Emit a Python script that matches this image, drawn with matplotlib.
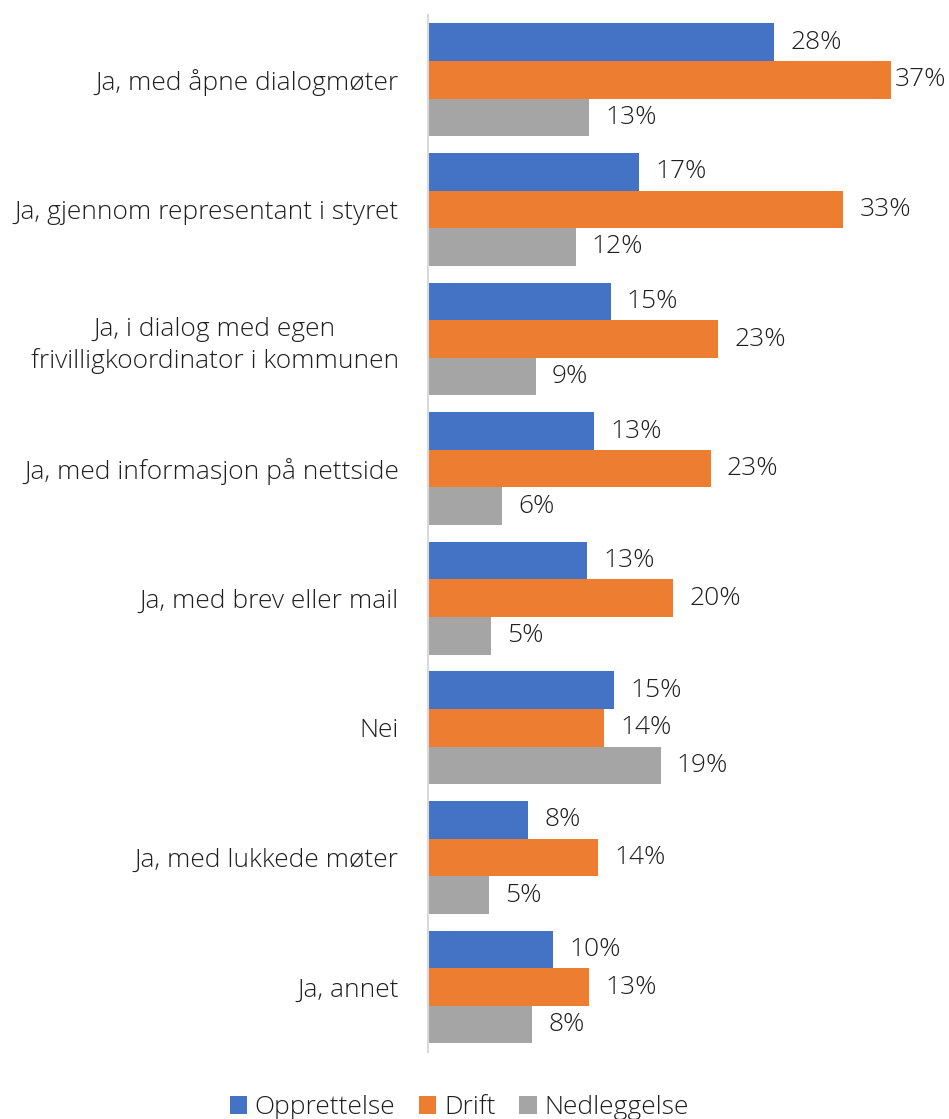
import matplotlib.pyplot as plt
import numpy as np

plt.rcParams['font.family'] = ['Open Sans', 'DejaVu Sans']
plt.rcParams['font.weight'] = 'light'

# Kategorier (ovenfra og ned) og andeler i prosent
categories = [
    'Ja, med åpne dialogmøter',
    'Ja, gjennom representant i styret',
    'Ja, i dialog med egen\nfrivilligkoordinator i kommunen',
    'Ja, med informasjon på nettside',
    'Ja, med brev eller mail',
    'Nei',
    'Ja, med lukkede møter',
    'Ja, annet',
]
opprettelse = [27.7, 16.9, 14.6, 13.3, 12.7, 14.9, 8.0, 10.0]
drift = [37.0, 33.2, 23.2, 22.6, 19.6, 14.1, 13.6, 12.9]
nedleggelse = [12.9, 11.8, 8.6, 5.9, 5.0, 18.6, 4.9, 8.3]

series = ['Opprettelse', 'Drift', 'Nedleggelse']
colors = ['#4472C4', '#ED7D31', '#A5A5A5']

fig = plt.figure(figsize=(9.49, 11.19), dpi=100)
ax = fig.add_axes([0.451, 0.060, 0.527, 0.9266])

fs = 19
xmax = 40
y = np.arange(len(categories))
h = 0.29
for k, (vals, name, col) in enumerate(zip([opprettelse, drift, nedleggelse], series, colors)):
    pos = y + (k - 1) * h
    ax.barh(pos, vals, height=h, color=col, label=name)
    for p, v in zip(pos, vals):
        # etiketten skyves inn hvis den ellers havner utenfor kanten
        xt = min(v + 1.3, xmax - 2.7)
        ax.text(xt, p, f'{round(v)}%', va='center', ha='left',
                fontsize=fs, color='#1f1f1f')

ax.set_xlim(0, xmax)
ax.set_ylim(len(categories) - 0.5, -0.5)
ax.set_yticks(y)
ax.set_yticklabels(categories, fontsize=fs, color='#1f1f1f', linespacing=1.35,
                   multialignment='center')
ax.tick_params(axis='y', length=0, pad=21)
ax.set_xticks([])
for s in ['top', 'right', 'bottom']:
    ax.spines[s].set_visible(False)
ax.spines['left'].set_color('#D9D9D9')
ax.spines['left'].set_linewidth(1.5)

fig.legend(loc='center', bbox_to_anchor=(0.484, 0.010), ncol=3, frameon=False,
           fontsize=fs, handlelength=0.65, handleheight=0.65, handletextpad=0.3,
           columnspacing=0.9, labelcolor='#1f1f1f')

fig.savefig('out.png', dpi=100)
